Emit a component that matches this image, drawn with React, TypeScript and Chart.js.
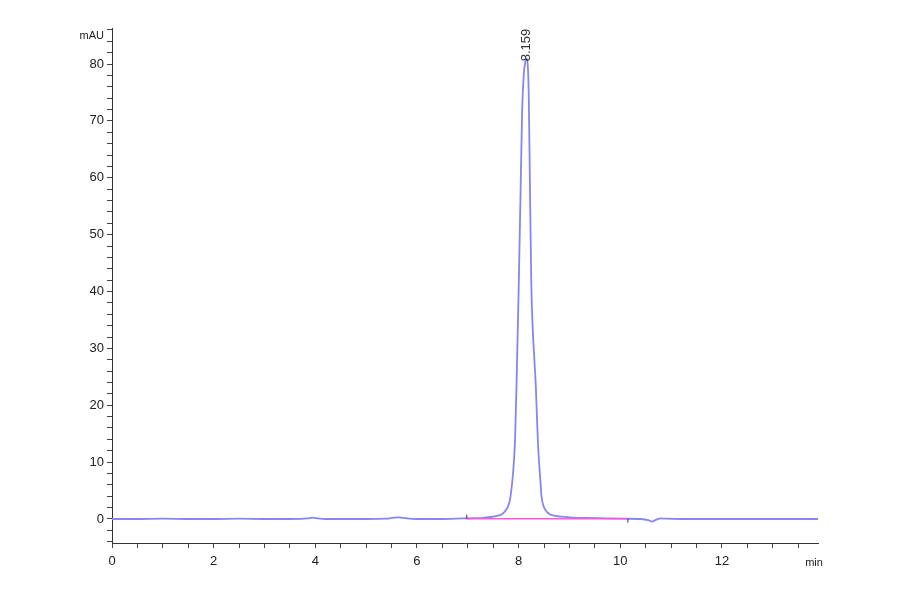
import React, { useEffect, useRef } from 'react';
import { Chart, registerables } from 'chart.js';

Chart.register(...registerables);

// Chromatogram trace (min / mAU)
const retentionTimes = [
  0, 0.5, 1, 1.5, 2, 2.5, 3, 3.5, 3.85, 3.95,
  4.05, 4.2, 4.6, 5, 5.4, 5.55, 5.65, 5.8, 6.0, 6.5,
  6.9, 7.1, 7.3, 7.45, 7.55, 7.65, 7.72, 7.78, 7.82, 7.85,
  7.88, 7.91, 7.93, 7.96, 8.0, 8.035, 8.07, 8.1, 8.13, 8.159,
  8.185, 8.2, 8.225, 8.25, 8.28, 8.31, 8.34, 8.36, 8.38, 8.41,
  8.43, 8.45, 8.49, 8.55, 8.62, 8.72, 8.85, 9.0, 9.3, 9.7,
  10.1, 10.4, 10.55, 10.62, 10.7, 10.8, 10.9, 11.2, 11.8, 12.5,
  13.2, 13.89,
];
const absorbance = [
  0, 0, 0.05, 0, 0, 0.05, 0, 0, 0.1, 0.25,
  0.1, 0, 0, 0, 0.05, 0.25, 0.3, 0.1, 0, 0,
  0.1, 0.15, 0.2, 0.35, 0.5, 0.75, 1.2, 2.0, 3.0, 4.6,
  7.0, 10.5, 14, 24, 40, 56, 72, 78, 80.3, 81,
  79, 74, 57, 41, 33, 28, 23, 18, 13.5, 9,
  6.5, 4, 2.3, 1.3, 0.8, 0.55, 0.4, 0.3, 0.2, 0.12,
  0.05, 0, -0.2, -0.45, -0.15, 0.12, 0.05, 0, 0, 0,
  0, 0,
];

// integration baseline (pink) start/end
const baselineTimes = [6.97, 10.14];
const baselineValues = [0.05, 0.05];

const peakTime = 8.159;
const peakHeight = 81;
const peakLabel = '8.159';

const xMajorTicks = [0, 2, 4, 6, 8, 10, 12];
const yMajorTicks = [0, 10, 20, 30, 40, 50, 60, 70, 80];
const xMinorStep = 0.5;
const yMinorStep = 2;

const xMin = 0;
const xMax = 13.89;
const yMin = -4.22;
const yMax = 86.33;

function minorTicks(min: number, max: number, step: number) {
  const out: { value: number }[] = [];
  for (let v = Math.ceil(min / step) * step; v <= max + 1e-9; v += step) {
    out.push({ value: Math.round(v * 100) / 100 });
  }
  return out;
}

const labelsPlugin = {
  id: 'chromLabels',
  afterDraw(chart: any) {
    const { ctx, scales, chartArea } = chart;
    const xs = scales.x;
    const ys = scales.y;
    ctx.save();
    ctx.fillStyle = '#222';
    ctx.font = '11px "Liberation Sans", Arial, sans-serif';

    // axis unit labels
    ctx.textAlign = 'right';
    ctx.textBaseline = 'middle';
    ctx.fillText('mAU', chartArea.left - 8, chartArea.top + 8);
    ctx.textAlign = 'center';
    ctx.textBaseline = 'top';
    ctx.fillText('min', chartArea.right - 4, chartArea.bottom + 14);

    // baseline start/end markers
    ctx.strokeStyle = '#333';
    ctx.lineWidth = 1;
    const bx0 = xs.getPixelForValue(baselineTimes[0]);
    const by0 = ys.getPixelForValue(baselineValues[0]);
    ctx.beginPath();
    ctx.moveTo(bx0 + 0.5, by0 - 4);
    ctx.lineTo(bx0 + 0.5, by0);
    ctx.stroke();
    const bx1 = xs.getPixelForValue(baselineTimes[1]);
    const by1 = ys.getPixelForValue(baselineValues[1]);
    ctx.beginPath();
    ctx.moveTo(bx1 + 0.5, by1);
    ctx.lineTo(bx1 + 0.5, by1 + 4);
    ctx.stroke();

    // peak label, rotated
    const px = xs.getPixelForValue(peakTime);
    const py = ys.getPixelForValue(peakHeight);
    ctx.translate(px, py + 3);
    ctx.rotate(-Math.PI / 2);
    ctx.textAlign = 'left';
    ctx.textBaseline = 'middle';
    ctx.font = '13px "Liberation Sans", Arial, sans-serif';
    ctx.fillStyle = '#333';
    ctx.fillText(peakLabel, 0, 0);
    ctx.restore();
  },
};

function Chromatogram() {
  const canvasRef = useRef<HTMLCanvasElement>(null);

  useEffect(() => {
    if (!canvasRef.current) return;

    const trace = retentionTimes.map((t, i) => ({ x: t, y: absorbance[i] }));
    const baseline = baselineTimes.map((t, i) => ({ x: t, y: baselineValues[i] }));

    const chart = new Chart(canvasRef.current, {
      type: 'scatter',
      data: {
        datasets: [
          {
            data: baseline,
            showLine: true,
            borderColor: '#ff55e0',
            borderWidth: 1.5,
            pointRadius: 0,
          },
          {
            data: trace,
            showLine: true,
            borderColor: '#8686f2',
            borderWidth: 1.8,
            pointRadius: 0,
            cubicInterpolationMode: 'monotone',
          },
        ],
      },
      options: {
        animation: false,
        responsive: false,
        devicePixelRatio: 1,
        layout: { padding: { left: 0, top: 28, right: 82, bottom: 0 } },
        plugins: {
          legend: { display: false },
          tooltip: { enabled: false },
        },
        scales: {
          x: {
            type: 'linear',
            min: xMin,
            max: xMax,
            afterFit: (s: any) => {
              s.height = 51;
            },
            afterBuildTicks: (s: any) => {
              s.ticks = minorTicks(xMin, xMax, xMinorStep);
            },
            border: { display: true, color: '#333', width: 1 },
            grid: {
              display: true,
              drawOnChartArea: false,
              drawTicks: true,
              tickLength: 5,
              color: '#444',
            },
            ticks: {
              autoSkip: false,
              maxRotation: 0,
              padding: 6,
              color: '#222',
              font: { family: '"Liberation Sans", Arial, sans-serif', size: 13 },
              callback: (v: any) => (xMajorTicks.includes(Number(v)) ? String(v) : ''),
            },
          },
          y: {
            type: 'linear',
            min: yMin,
            max: yMax,
            afterFit: (s: any) => {
              s.width = 112;
            },
            afterBuildTicks: (s: any) => {
              s.ticks = minorTicks(yMin, yMax, yMinorStep);
            },
            border: { display: true, color: '#333', width: 1 },
            grid: {
              display: true,
              drawOnChartArea: false,
              drawTicks: true,
              tickLength: 5,
              color: '#444',
            },
            ticks: {
              autoSkip: false,
              padding: 3,
              color: '#222',
              font: { family: '"Liberation Sans", Arial, sans-serif', size: 13 },
              callback: (v: any) => (yMajorTicks.includes(Number(v)) ? String(v) : ''),
            },
          },
        },
      },
      plugins: [labelsPlugin],
    });

    return () => {
      chart.destroy();
    };
  }, []);

  return (
    <div style={{ position: 'fixed', left: 0, top: 0, width: 900, height: 594, background: '#fff' }}>
      <canvas ref={canvasRef} width="900" height="594"></canvas>
    </div>
  );
}

export default function App() {
  return <Chromatogram />;
}
